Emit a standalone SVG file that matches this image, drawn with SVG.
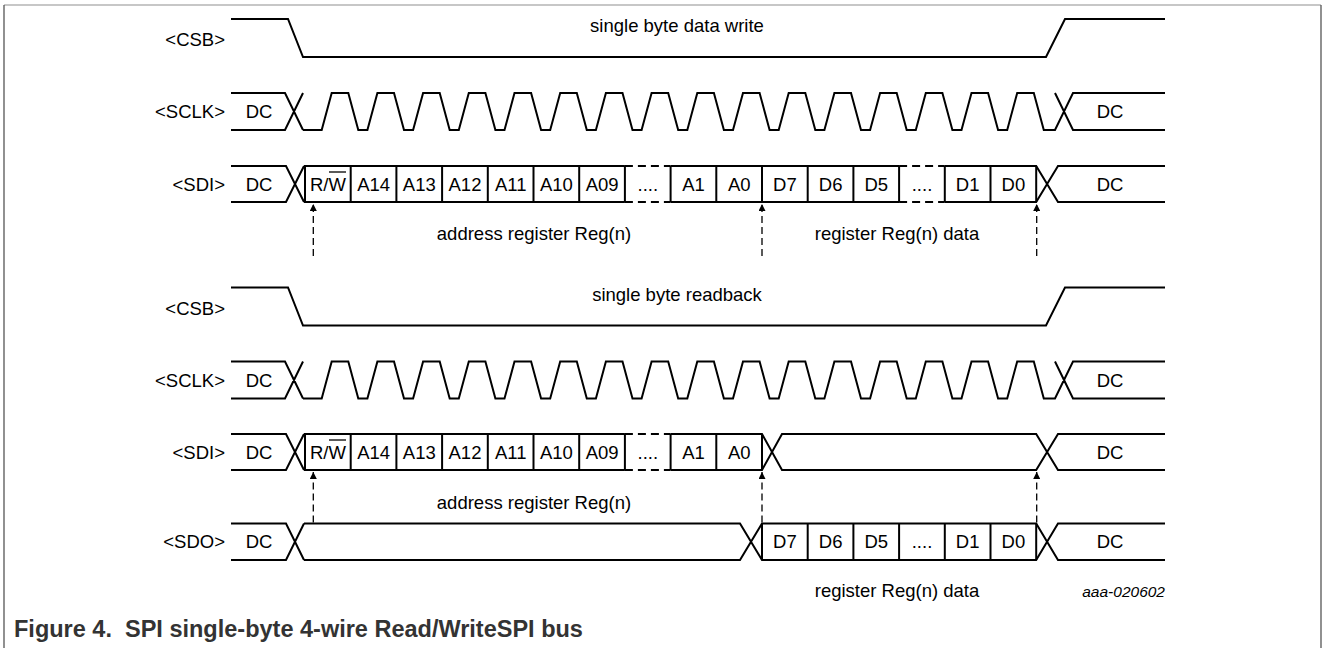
<svg xmlns="http://www.w3.org/2000/svg" width="1327" height="648" viewBox="0 0 1327 648">
<style>
  .sig{fill:none;stroke:#000;stroke-width:2;stroke-linejoin:miter}
  .dash{fill:none;stroke:#000;stroke-width:2;stroke-dasharray:8,5}
  .arr{fill:none;stroke:#000;stroke-width:1.3;stroke-dasharray:7,4}
  text{font-family:"Liberation Sans",Arial,sans-serif;font-size:18.5px;fill:#000}
  .c{text-anchor:middle}
  .lbl{text-anchor:end}
  .cap{font-weight:bold;font-size:23.5px;fill:#333}
  .id{font-style:italic;font-size:15.5px;text-anchor:end}
</style>
<defs>
  <marker id="ah" viewBox="0 0 10 10" refX="10" refY="5" markerWidth="7" markerHeight="7" markerUnits="userSpaceOnUse" orient="auto">
    <path d="M0,0 L10,5 L0,10 Z" fill="#000"/>
  </marker>
  <path id="clk" class="sig" d="M231,93 H285 L303,130 M231,130 H285 L303,93 M303,130 H321.7 L331.7,93 H348.3 L358.3,130 H367.4 L377.4,93 H394 L404,130 H413.1 L423.1,93 H439.7 L449.7,130 H458.8 L468.8,93 H485.4 L495.4,130 H504.5 L514.5,93 H531.1 L541.1,130 H550.2 L560.2,93 H576.8 L586.8,130 H595.9 L605.9,93 H622.5 L632.5,130 H641.6 L651.6,93 H668.2 L678.2,130 H687.3 L697.3,93 H713.9 L723.9,130 H733 L743,93 H759.6 L769.6,130 H778.7 L788.7,93 H805.3 L815.3,130 H824.4 L834.4,93 H851 L861,130 H870.1 L880.1,93 H896.7 L906.7,130 H915.8 L925.8,93 H942.4 L952.4,130 H961.5 L971.5,93 H988.1 L998.1,130 H1007.2 L1017.2,93 H1033.8 L1043.8,130 H1055 L1073,93 H1165 M1055,93 L1073,130 H1165"/>
  <path id="csb" class="sig" d="M231,19 H288 L303,57 H1046 L1065,19 H1165"/>
</defs>

<g id="frame">
  <line x1="4" y1="5" x2="1321" y2="5" stroke="#b5b5b5" stroke-width="1.5"/>
  <line x1="4" y1="5" x2="4" y2="648" stroke="#555" stroke-width="1.3"/>
  <line x1="1321" y1="5" x2="1321" y2="648" stroke="#555" stroke-width="1.3"/>
</g>

<!-- ===== single byte data write ===== -->
<g id="csb1">
  <text class="lbl" x="225" y="46">&lt;CSB&gt;</text>
  <use href="#csb"/>
  <text class="c" x="677" y="32">single byte data write</text>
</g>

<g id="sclk1">
  <text class="lbl" x="225" y="118">&lt;SCLK&gt;</text>
  <use href="#clk"/>
  <text class="c" x="259" y="118">DC</text>
  <text class="c" x="1110" y="118">DC</text>
</g>

<g id="sdi1">
  <text class="lbl" x="225" y="190.5">&lt;SDI&gt;</text>
  <path class="sig" d="M231,166 H286 L304,202 M231,202 H286 L304,166 M304,166 H624.9 M670.6,166 H899.1 M944.8,166 H1036.2 L1058,202 H1165 M304,202 H624.9 M670.6,202 H899.1 M944.8,202 H1036.2 L1058,166 H1165"/>
  <path class="dash" d="M624.9,166 H670.6 M624.9,202 H670.6 M899.1,166 H944.8 M899.1,202 H944.8"/>
  <path class="sig" d="M305,166 V202 M350.7,166 V202 M396.4,166 V202 M442.1,166 V202 M487.8,166 V202 M533.5,166 V202 M579.2,166 V202 M624.9,166 V202 M670.6,166 V202 M716.3,166 V202 M762,166 V202 M807.7,166 V202 M853.4,166 V202 M899.1,166 V202 M944.8,166 V202 M990.5,166 V202 M1036.2,166 V202"/>
  <text class="c" x="259" y="190.5">DC</text>
  <text class="c" x="327.9" y="190.5">R/W</text>
  <line x1="329" y1="172" x2="346" y2="172" stroke="#000" stroke-width="1.3"/>
  <text class="c" x="373.6" y="190.5">A14</text>
  <text class="c" x="419.3" y="190.5">A13</text>
  <text class="c" x="465" y="190.5">A12</text>
  <text class="c" x="510.7" y="190.5">A11</text>
  <text class="c" x="556.4" y="190.5">A10</text>
  <text class="c" x="602.1" y="190.5">A09</text>
  <text class="c" x="647.8" y="190.5">....</text>
  <text class="c" x="693.5" y="190.5">A1</text>
  <text class="c" x="739.2" y="190.5">A0</text>
  <text class="c" x="784.9" y="190.5">D7</text>
  <text class="c" x="830.6" y="190.5">D6</text>
  <text class="c" x="876.3" y="190.5">D5</text>
  <text class="c" x="922" y="190.5">....</text>
  <text class="c" x="967.7" y="190.5">D1</text>
  <text class="c" x="1013.4" y="190.5">D0</text>
  <text class="c" x="1110" y="190.5">DC</text>
</g>

<text class="c" x="534" y="240">address register Reg(n)</text>
<text class="c" x="897" y="240">register Reg(n) data</text>

<!-- ===== single byte readback ===== -->
<g id="csb2">
  <text class="lbl" x="225" y="314.5">&lt;CSB&gt;</text>
  <use href="#csb" transform="translate(0,268.5)"/>
  <text class="c" x="677" y="300.5">single byte readback</text>
</g>

<g id="sclk2">
  <text class="lbl" x="225" y="386.5">&lt;SCLK&gt;</text>
  <use href="#clk" transform="translate(0,268.5)"/>
  <text class="c" x="259" y="386.5">DC</text>
  <text class="c" x="1110" y="386.5">DC</text>
</g>

<g id="sdi2">
  <text class="lbl" x="225" y="458.5">&lt;SDI&gt;</text>
  <path class="sig" d="M231,434 H286 L304,470 M231,470 H286 L304,434 M304,434 H624.9 M670.6,434 H762 L782,470 H1036.2 L1058,434 H1165 M304,470 H624.9 M670.6,470 H762 L782,434 H1036.2 L1058,470 H1165"/>
  <path class="dash" d="M624.9,434 H670.6 M624.9,470 H670.6"/>
  <path class="sig" d="M305,434 V470 M350.7,434 V470 M396.4,434 V470 M442.1,434 V470 M487.8,434 V470 M533.5,434 V470 M579.2,434 V470 M624.9,434 V470 M670.6,434 V470 M716.3,434 V470 M762,434 V470"/>
  <text class="c" x="259" y="458.5">DC</text>
  <text class="c" x="327.9" y="458.5">R/W</text>
  <line x1="329" y1="440" x2="346" y2="440" stroke="#000" stroke-width="1.3"/>
  <text class="c" x="373.6" y="458.5">A14</text>
  <text class="c" x="419.3" y="458.5">A13</text>
  <text class="c" x="465" y="458.5">A12</text>
  <text class="c" x="510.7" y="458.5">A11</text>
  <text class="c" x="556.4" y="458.5">A10</text>
  <text class="c" x="602.1" y="458.5">A09</text>
  <text class="c" x="647.8" y="458.5">....</text>
  <text class="c" x="693.5" y="458.5">A1</text>
  <text class="c" x="739.2" y="458.5">A0</text>
  <text class="c" x="1110" y="458.5">DC</text>
</g>

<g id="sdo">
  <text class="lbl" x="225" y="548">&lt;SDO&gt;</text>
  <path class="sig" d="M231,523.5 H286 L304,560 M231,560 H286 L304,523.5 M304,523.5 H740 L762,560 H1036.2 L1058,523.5 H1165 M304,560 H740 L762,523.5 H1036.2 L1058,560 H1165"/>
  <path class="sig" d="M762,523.5 V560 M807.7,523.5 V560 M853.4,523.5 V560 M899.1,523.5 V560 M944.8,523.5 V560 M990.5,523.5 V560 M1036.2,523.5 V560"/>
  <text class="c" x="259" y="548">DC</text>
  <text class="c" x="784.9" y="548">D7</text>
  <text class="c" x="830.6" y="548">D6</text>
  <text class="c" x="876.3" y="548">D5</text>
  <text class="c" x="922" y="548">....</text>
  <text class="c" x="967.7" y="548">D1</text>
  <text class="c" x="1013.4" y="548">D0</text>
  <text class="c" x="1110" y="548">DC</text>
</g>

<text class="c" x="534" y="508.5">address register Reg(n)</text>
<text class="c" x="897" y="597">register Reg(n) data</text>
<text class="id" x="1165" y="597">aaa-020602</text>

<g id="connectors">
  <line class="arr" x1="313.3" y1="256" x2="313.3" y2="204" marker-end="url(#ah)"/>
  <line class="arr" x1="762" y1="256" x2="762" y2="204" marker-end="url(#ah)"/>
  <line class="arr" x1="1036.7" y1="256" x2="1036.7" y2="204" marker-end="url(#ah)"/>
  <line class="arr" x1="313.3" y1="522.5" x2="313.3" y2="472" marker-end="url(#ah)"/>
  <line class="arr" x1="762" y1="522.5" x2="762" y2="472" marker-end="url(#ah)"/>
  <line class="arr" x1="1036.7" y1="522.5" x2="1036.7" y2="472" marker-end="url(#ah)"/>
</g>

<text class="cap" x="14" y="637" xml:space="preserve">Figure 4.  SPI single-byte 4-wire Read/WriteSPI bus</text>
</svg>
